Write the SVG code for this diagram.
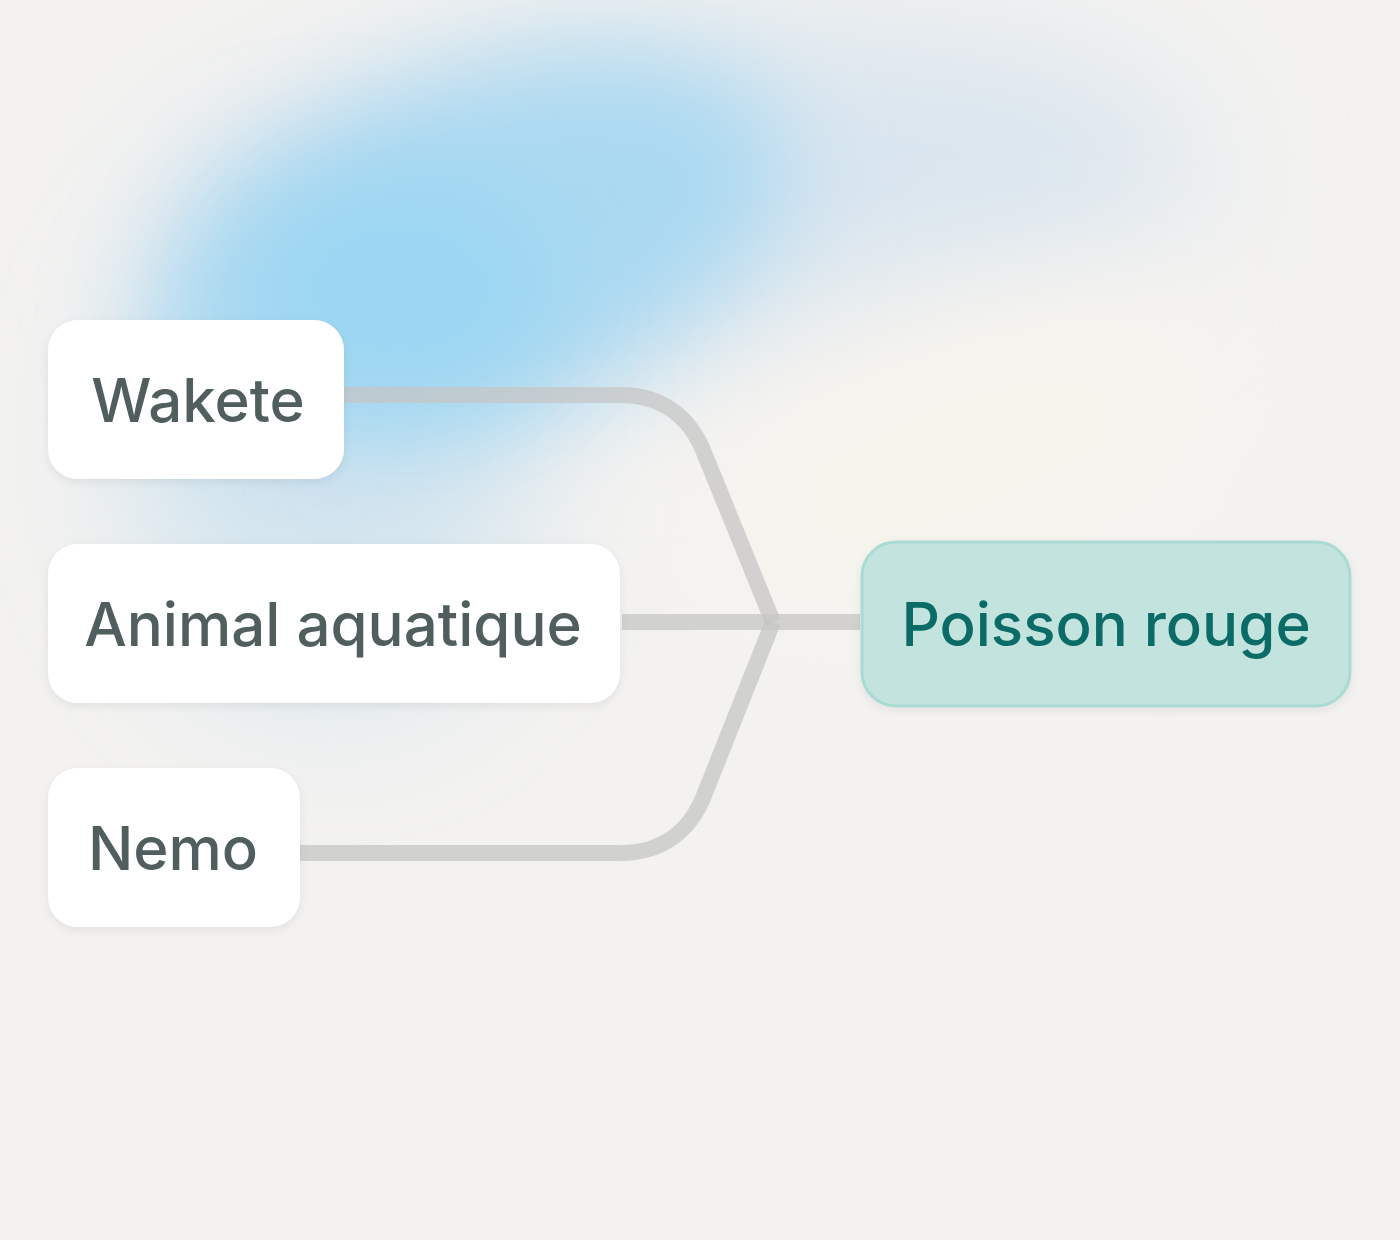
<svg xmlns="http://www.w3.org/2000/svg" width="1400" height="1240" viewBox="0 0 1400 1240">
<defs>
<filter id="blur" x="-50%" y="-50%" width="200%" height="200%"><feGaussianBlur stdDeviation="70"/></filter>
<filter id="blur2" x="-50%" y="-50%" width="200%" height="200%"><feGaussianBlur stdDeviation="50"/></filter>
<filter id="shadow" x="-20%" y="-20%" width="140%" height="150%"><feDropShadow dx="0" dy="3" stdDeviation="4" flood-color="#000" flood-opacity="0.07"/></filter>
<style>
.node{fill:#ffffff;filter:url(#shadow)}
.lbl{font-family:Inter,"Liberation Sans",sans-serif;font-size:60px;font-weight:500;fill:#505f5e}
.edge{fill:none;stroke:#c6c6c6;stroke-width:16;stroke-opacity:0.75}
</style>
</defs>
<rect width="1400" height="1240" fill="#f3f2f0"/>
<g id="background">
<ellipse cx="680" cy="200" rx="520" ry="170" fill="#d9e5ef" filter="url(#blur)" transform="rotate(-4 680 200)"/>
<ellipse cx="330" cy="440" rx="200" ry="260" fill="#c6dfee" filter="url(#blur)" opacity="0.7"/>
<ellipse cx="470" cy="250" rx="330" ry="170" fill="#aad9f1" filter="url(#blur2)" transform="rotate(-20 470 250)"/>
<ellipse cx="400" cy="290" rx="150" ry="110" fill="#98d5f3" filter="url(#blur2)" opacity="0.85"/>
<ellipse cx="960" cy="450" rx="300" ry="160" fill="#f7f4ee" filter="url(#blur)" transform="rotate(-20 960 450)"/>
</g>
<g id="connectors">
<path class="edge" d="M344 395 H620 C660 395 690 415 705 455 L773 622"/>
<path class="edge" d="M300 853 H620 C660 853 690 833 705 793 L773 622"/>
<path class="edge" d="M622 622 H860"/>
</g>
<g id="node-wakete">
<rect class="node" x="48" y="320" width="296" height="159" rx="30"/>
<text class="lbl" x="198" y="422" text-anchor="middle">Wakete</text>
</g>
<g id="node-animal">
<rect class="node" x="48" y="544" width="572" height="159" rx="30"/>
<text class="lbl" x="333" y="646" text-anchor="middle">Animal aquatique</text>
</g>
<g id="node-nemo">
<rect class="node" x="48" y="768" width="252" height="159" rx="30"/>
<text class="lbl" x="173" y="870" text-anchor="middle">Nemo</text>
</g>
<g id="node-poisson">
<rect x="862" y="542" width="488" height="164" rx="34" fill="#c3e3df" stroke="#a9dad3" stroke-width="3" filter="url(#shadow)"/>
<text x="1106" y="646" text-anchor="middle" font-family="Inter,'Liberation Sans',sans-serif" font-size="60" font-weight="500" fill="#0b6b66">Poisson rouge</text>
</g>
</svg>
